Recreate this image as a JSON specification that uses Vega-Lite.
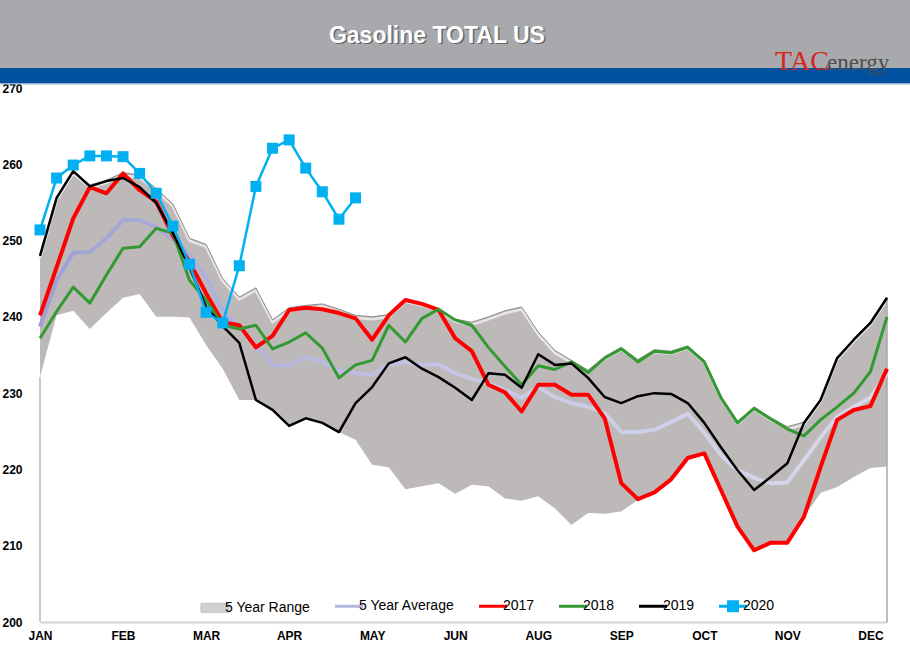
{
  "$schema": "https://vega.github.io/schema/vega-lite/v6.json",
  "width": 847,
  "height": 534,
  "autosize": {"type": "none"},
  "padding": {"left": 40, "top": 88, "right": 23, "bottom": 37},
  "background": "white",
  "config": {"view": {"stroke": null}, "font": "Liberation Sans",
    "axisX": {"title": null, "ticks": false, "grid": false, "domainColor": "#d2d2da", "domainWidth": 2, "labelFont": "Liberation Sans", "labelFontWeight": "bold", "labelFontSize": 12, "labelColor": "#000000", "labelPadding": 8, "labelFlush": false, "labelOverlap": false},
    "axisY": {"title": null, "ticks": false, "domain": false, "grid": false, "labelAlign": "left", "labelPadding": 38, "labelFont": "Liberation Sans", "labelFontWeight": "bold", "labelFontSize": 12, "labelColor": "#000000", "labelFlush": false, "labelOverlap": false}
  },
  "data": {"values": [
    {"w":0,"hi":248.0,"lo":232.1,"avg":238.7,"y17":240.2,"y18":237.2,"y19":248.0,"y20":251.4},
    {"w":1,"hi":255.6,"lo":240.2,"avg":244.8,"y17":246.5,"y18":240.7,"y19":255.6,"y20":258.2},
    {"w":2,"hi":259.1,"lo":240.8,"avg":248.4,"y17":252.9,"y18":243.9,"y19":259.1,"y20":259.9},
    {"w":3,"hi":257.3,"lo":238.4,"avg":248.5,"y17":257.0,"y18":241.8,"y19":257.1,"y20":261.1},
    {"w":4,"hi":257.9,"lo":240.5,"avg":250.3,"y17":256.2,"y18":245.5,"y19":257.8,"y20":261.1},
    {"w":5,"hi":258.9,"lo":242.5,"avg":252.7,"y17":258.8,"y18":249.0,"y19":258.2,"y20":261.0},
    {"w":6,"hi":258.6,"lo":243.0,"avg":252.7,"y17":256.6,"y18":249.2,"y19":257.0,"y20":258.8},
    {"w":7,"hi":256.8,"lo":240.0,"avg":251.8,"y17":255.1,"y18":251.6,"y19":254.9,"y20":256.2},
    {"w":8,"hi":254.8,"lo":240.0,"avg":250.1,"y17":250.6,"y18":251.0,"y19":251.0,"y20":251.9},
    {"w":9,"hi":250.3,"lo":239.9,"avg":248.1,"y17":247.2,"y18":244.8,"y19":246.5,"y20":246.9},
    {"w":10,"hi":249.5,"lo":236.3,"avg":245.2,"y17":243.1,"y18":242.2,"y19":241.3,"y20":240.6},
    {"w":11,"hi":245.0,"lo":233.2,"avg":240.8,"y17":239.3,"y18":238.9,"y19":238.8,"y20":239.2},
    {"w":12,"hi":242.6,"lo":229.1,"avg":238.6,"y17":238.9,"y18":238.4,"y19":236.6,"y20":246.7},
    {"w":13,"hi":243.8,"lo":229.1,"avg":236.3,"y17":236.0,"y18":238.9,"y19":229.1,"y20":257.1},
    {"w":14,"hi":239.6,"lo":227.8,"avg":233.7,"y17":237.5,"y18":235.8,"y19":227.8,"y20":262.1},
    {"w":15,"hi":241.2,"lo":225.7,"avg":233.6,"y17":240.9,"y18":236.7,"y19":225.7,"y20":263.2},
    {"w":16,"hi":241.5,"lo":226.7,"avg":234.7,"y17":241.2,"y18":237.9,"y19":226.7,"y20":259.5},
    {"w":17,"hi":241.7,"lo":226.1,"avg":234.1,"y17":241.0,"y18":235.9,"y19":226.1,"y20":256.4},
    {"w":18,"hi":241.0,"lo":224.9,"avg":232.9,"y17":240.5,"y18":232.0,"y19":224.9,"y20":252.8},
    {"w":19,"hi":240.2,"lo":223.9,"avg":232.6,"y17":239.8,"y18":233.7,"y19":228.7,"y20":255.6},
    {"w":20,"hi":240.0,"lo":220.6,"avg":232.4,"y17":237.0,"y18":234.3,"y19":230.8},
    {"w":21,"hi":240.3,"lo":220.3,"avg":233.7,"y17":240.2,"y18":238.9,"y19":233.9},
    {"w":22,"hi":242.3,"lo":217.4,"avg":234.1,"y17":242.2,"y18":236.7,"y19":234.7},
    {"w":23,"hi":241.8,"lo":217.8,"avg":233.7,"y17":241.7,"y18":239.8,"y19":233.2},
    {"w":24,"hi":241.1,"lo":218.2,"avg":233.8,"y17":240.9,"y18":241.0,"y19":232.1},
    {"w":25,"hi":239.7,"lo":216.8,"avg":232.6,"y17":237.2,"y18":239.6,"y19":230.7},
    {"w":26,"hi":239.3,"lo":218.0,"avg":231.9,"y17":235.5,"y18":238.9,"y19":229.1},
    {"w":27,"hi":240.0,"lo":217.8,"avg":231.3,"y17":231.1,"y18":236.0,"y19":232.6},
    {"w":28,"hi":240.8,"lo":216.2,"avg":230.4,"y17":230.1,"y18":233.5,"y19":232.4},
    {"w":29,"hi":241.3,"lo":215.9,"avg":229.4,"y17":227.6,"y18":231.1,"y19":230.7},
    {"w":30,"hi":238.0,"lo":216.5,"avg":230.8,"y17":231.1,"y18":233.6,"y19":235.1},
    {"w":31,"hi":235.6,"lo":214.9,"avg":229.5,"y17":231.1,"y18":233.1,"y19":233.7},
    {"w":32,"hi":234.3,"lo":212.7,"avg":228.7,"y17":229.8,"y18":234.1,"y19":233.9},
    {"w":33,"hi":233.0,"lo":214.3,"avg":228.2,"y17":229.8,"y18":232.7,"y19":232.0},
    {"w":34,"hi":234.8,"lo":214.2,"avg":227.4,"y17":226.7,"y18":234.6,"y19":229.5},
    {"w":35,"hi":236.0,"lo":214.5,"avg":224.9,"y17":218.2,"y18":235.8,"y19":228.7},
    {"w":36,"hi":234.4,"lo":216.0,"avg":224.9,"y17":216.1,"y18":234.1,"y19":229.6},
    {"w":37,"hi":235.7,"lo":217.0,"avg":225.2,"y17":217.0,"y18":235.5,"y19":230.0},
    {"w":38,"hi":235.5,"lo":218.7,"avg":226.2,"y17":218.7,"y18":235.3,"y19":229.9},
    {"w":39,"hi":236.2,"lo":221.5,"avg":227.3,"y17":221.5,"y18":236.0,"y19":228.7},
    {"w":40,"hi":234.3,"lo":222.1,"avg":224.8,"y17":222.1,"y18":234.1,"y19":226.1},
    {"w":41,"hi":229.6,"lo":217.3,"avg":221.9,"y17":217.3,"y18":229.4,"y19":222.9},
    {"w":42,"hi":226.3,"lo":212.5,"avg":219.9,"y17":212.5,"y18":226.1,"y19":219.9},
    {"w":43,"hi":228.2,"lo":209.4,"avg":218.9,"y17":209.4,"y18":228.0,"y19":217.3},
    {"w":44,"hi":226.8,"lo":210.4,"avg":218.2,"y17":210.4,"y18":226.6,"y19":219.0},
    {"w":45,"hi":225.6,"lo":210.4,"avg":218.3,"y17":210.4,"y18":225.3,"y19":220.8},
    {"w":46,"hi":226.2,"lo":213.8,"avg":221.2,"y17":213.8,"y18":224.4,"y19":226.1},
    {"w":47,"hi":229.2,"lo":216.9,"avg":224.2,"y17":220.3,"y18":226.5,"y19":229.1},
    {"w":48,"hi":234.7,"lo":217.7,"avg":226.9,"y17":226.5,"y18":228.2,"y19":234.6},
    {"w":49,"hi":237.1,"lo":219.0,"avg":228.2,"y17":227.8,"y18":230.0,"y19":237.0},
    {"w":50,"hi":239.3,"lo":220.2,"avg":229.4,"y17":228.3,"y18":232.8,"y19":239.2},
    {"w":51,"hi":242.5,"lo":220.4,"avg":232.6,"y17":233.2,"y18":240.0,"y19":242.5}
  ]},
  "layer": [
    {
      "mark": {"type": "area", "color": "#bdb9b9", "opacity": 1},
      "encoding": {
        "x": {"field": "w", "type": "quantitative", "scale": {"domain": [0, 51], "nice": false, "zero": false},
          "axis": {"values": [0, 5, 10, 15, 20, 25, 30, 35, 40, 45, 50], "labelExpr": "['JAN','FEB','MAR','APR','MAY','JUN','AUG','SEP','OCT','NOV','DEC'][round(datum.value/5)]", "title": null}},
        "y": {"field": "hi", "type": "quantitative", "scale": {"domain": [200, 270], "nice": false, "zero": false},
          "axis": {"values": [200, 210, 220, 230, 240, 250, 260, 270], "title": null}},
        "y2": {"field": "lo"}
      }
    },
    {
      "data": {"values": [{}]},
      "mark": {"type": "rect", "color": "#a7a9ac"},
      "encoding": {
        "x": {"datum": -2.5, "type": "quantitative", "scale": {"domain": [0, 51], "nice": false, "zero": false}},
        "x2": {"datum": 52.5},
        "y": {"datum": 281.6, "type": "quantitative", "scale": {"domain": [200, 270], "nice": false, "zero": false}},
        "y2": {"datum": 272.63}
      }
    },
    {
      "data": {"values": [{}]},
      "mark": {"type": "rect", "color": "#0052a0"},
      "encoding": {
        "x": {"datum": -2.5, "type": "quantitative", "scale": {"domain": [0, 51], "nice": false, "zero": false}},
        "x2": {"datum": 52.5},
        "y": {"datum": 272.63, "type": "quantitative", "scale": {"domain": [200, 270], "nice": false, "zero": false}},
        "y2": {"datum": 270.66}
      }
    },
    {
      "data": {"values": [{}]},
      "mark": {"type": "rect", "color": "#9db1cf"},
      "encoding": {
        "x": {"datum": -2.5, "type": "quantitative", "scale": {"domain": [0, 51], "nice": false, "zero": false}},
        "x2": {"datum": 52.5},
        "y": {"datum": 270.66, "type": "quantitative", "scale": {"domain": [200, 270], "nice": false, "zero": false}},
        "y2": {"datum": 270.47}
      }
    },
    {
      "data": {"values": [{}]},
      "mark": {"type": "text", "text": "Gasoline TOTAL US", "font": "Liberation Sans", "fontSize": 23, "fontWeight": "bold", "color": "#4a4a4a", "opacity": 0.7, "align": "center", "baseline": "middle", "dx": 1.5, "dy": 1.5},
      "encoding": {
        "x": {"datum": 23.9, "type": "quantitative", "scale": {"domain": [0, 51], "nice": false, "zero": false}},
        "y": {"datum": 276.82, "type": "quantitative", "scale": {"domain": [200, 270], "nice": false, "zero": false}}
      }
    },
    {
      "data": {"values": [{}]},
      "mark": {"type": "text", "text": "Gasoline TOTAL US", "font": "Liberation Sans", "fontSize": 23, "fontWeight": "bold", "color": "#ffffff", "align": "center", "baseline": "middle"},
      "encoding": {
        "x": {"datum": 23.9, "type": "quantitative", "scale": {"domain": [0, 51], "nice": false, "zero": false}},
        "y": {"datum": 276.82, "type": "quantitative", "scale": {"domain": [200, 270], "nice": false, "zero": false}}
      }
    },
    {
      "data": {"values": [{}]},
      "mark": {"type": "text", "text": "TAC", "font": "Liberation Serif", "fontSize": 28, "color": "#d7261e", "align": "left", "baseline": "alphabetic"},
      "encoding": {
        "x": {"datum": 44.26, "type": "quantitative", "scale": {"domain": [0, 51], "nice": false, "zero": false}},
        "y": {"datum": 272.3, "type": "quantitative", "scale": {"domain": [200, 270], "nice": false, "zero": false}}
      }
    },
    {
      "data": {"values": [{}]},
      "mark": {"type": "text", "text": "energy", "font": "Liberation Serif", "fontSize": 23, "color": "#4d4d4d", "align": "left", "baseline": "alphabetic"},
      "encoding": {
        "x": {"datum": 47.39, "type": "quantitative", "scale": {"domain": [0, 51], "nice": false, "zero": false}},
        "y": {"datum": 272.3, "type": "quantitative", "scale": {"domain": [200, 270], "nice": false, "zero": false}}
      }
    },
    {
      "mark": {"type": "line", "color": "#e6e4e4", "strokeWidth": 2.5, "yOffset": 2.5},
      "encoding": {
        "x": {"field": "w", "type": "quantitative", "scale": {"domain": [0, 51], "nice": false, "zero": false}},
        "y": {"field": "hi", "type": "quantitative", "scale": {"domain": [200, 270], "nice": false, "zero": false}}
      }
    },
    {
      "mark": {"type": "line", "color": "#8f8b8b", "strokeWidth": 1},
      "encoding": {
        "x": {"field": "w", "type": "quantitative", "scale": {"domain": [0, 51], "nice": false, "zero": false}},
        "y": {"field": "hi", "type": "quantitative", "scale": {"domain": [200, 270], "nice": false, "zero": false}}
      }
    },
    {
      "transform": [{"filter": "datum.w === 0"}],
      "mark": {"type": "rule", "color": "#c8c8d6", "strokeWidth": 2},
      "encoding": {
        "x": {"field": "w", "type": "quantitative", "scale": {"domain": [0, 51], "nice": false, "zero": false}},
        "y": {"field": "lo", "type": "quantitative", "scale": {"domain": [200, 270], "nice": false, "zero": false}},
        "y2": {"datum": 200}
      }
    },
    {
      "transform": [{"filter": "datum.w === 51"}],
      "mark": {"type": "rule", "color": "#a6a6b2", "strokeWidth": 1.5},
      "encoding": {
        "x": {"field": "w", "type": "quantitative", "scale": {"domain": [0, 51], "nice": false, "zero": false}},
        "y": {"field": "hi", "type": "quantitative", "scale": {"domain": [200, 270], "nice": false, "zero": false}},
        "y2": {"datum": 200}
      }
    },
    {
      "mark": {"type": "line", "strokeWidth": 4, "strokeJoin": "round", "color": {"gradient": "linear", "x1": 0, "y1": 0, "x2": 1, "y2": 0, "stops": [{"offset": 0, "color": "#9da0d3"}, {"offset": 0.5, "color": "#c6c7e5"}, {"offset": 1, "color": "#d9d9ec"}]}},
      "encoding": {
        "x": {"field": "w", "type": "quantitative", "scale": {"domain": [0, 51], "nice": false, "zero": false}},
        "y": {"field": "avg", "type": "quantitative", "scale": {"domain": [200, 270], "nice": false, "zero": false}}
      }
    },
    {
      "mark": {"type": "line", "strokeWidth": 4, "strokeJoin": "round"},
      "encoding": {
        "x": {"field": "w", "type": "quantitative", "scale": {"domain": [0, 51], "nice": false, "zero": false}},
        "y": {"field": "y17", "type": "quantitative", "scale": {"domain": [200, 270], "nice": false, "zero": false}},
        "color": {"datum": "2017", "type": "nominal",
          "scale": {"domain": ["5 Year Range", "5 Year Average", "2017", "2018", "2019", "2020"], "range": ["#c4c0c0", "#b4b6de", "#ff0000", "#339933", "#000000", "#00b0f0"]},
          "legend": {"title": null, "orient": "none", "legendX": 168, "legendY": 511, "direction": "horizontal", "symbolSize": 784, "symbolType": "stroke", "labelFont": "Liberation Sans", "labelFontSize": 14, "labelColor": "#000000", "labelOffset": 3, "columnPadding": 18, "symbolStrokeWidth": 3,
            "encode": {"symbols": {"update": {
              "shape": {"signal": "datum.value === '5 Year Range' ? 'M-1,-0.32H1V0.32H-1ZM0,-0.39L0,-0.39M0,0.39L0,0.39' : (datum.value === '2020' ? 'M-1,0H1M-0.32,-0.32H0.32V0.32H-0.32Z' : 'M-1,0H1M0,-0.32M0,0.32')"},
              "size": {"value": 784},
              "fill": {"signal": "datum.value === '5 Year Range' ? '#d2cfcf' : (datum.value === '2020' ? '#00b0f0' : 'transparent')"},
              "stroke": {"signal": "datum.value === '5 Year Range' ? '#8e8a8a' : scale('color', datum.value)"},
              "strokeWidth": {"signal": "datum.value === '5 Year Range' ? 1 : 3"},
              "opacity": {"value": 1}
            }}}}
        }
      }
    },
    {
      "mark": {"type": "line", "strokeWidth": 3, "strokeJoin": "round"},
      "encoding": {
        "x": {"field": "w", "type": "quantitative", "scale": {"domain": [0, 51], "nice": false, "zero": false}},
        "y": {"field": "y18", "type": "quantitative", "scale": {"domain": [200, 270], "nice": false, "zero": false}},
        "color": {"datum": "2018", "type": "nominal"}
      }
    },
    {
      "mark": {"type": "line", "strokeWidth": 2.5, "strokeJoin": "round"},
      "encoding": {
        "x": {"field": "w", "type": "quantitative", "scale": {"domain": [0, 51], "nice": false, "zero": false}},
        "y": {"field": "y19", "type": "quantitative", "scale": {"domain": [200, 270], "nice": false, "zero": false}},
        "color": {"datum": "2019", "type": "nominal"}
      }
    },
    {
      "mark": {"type": "line", "strokeWidth": 2.5, "strokeJoin": "round"},
      "encoding": {
        "x": {"field": "w", "type": "quantitative", "scale": {"domain": [0, 51], "nice": false, "zero": false}},
        "y": {"field": "y20", "type": "quantitative", "scale": {"domain": [200, 270], "nice": false, "zero": false}},
        "color": {"datum": "2020", "type": "nominal"}
      }
    },
    {
      "mark": {"type": "point", "shape": "square", "size": 121, "filled": true, "opacity": 1, "color": "#00b0f0"},
      "encoding": {
        "x": {"field": "w", "type": "quantitative", "scale": {"domain": [0, 51], "nice": false, "zero": false}},
        "y": {"field": "y20", "type": "quantitative", "scale": {"domain": [200, 270], "nice": false, "zero": false}}
      }
    }
  ]
}
